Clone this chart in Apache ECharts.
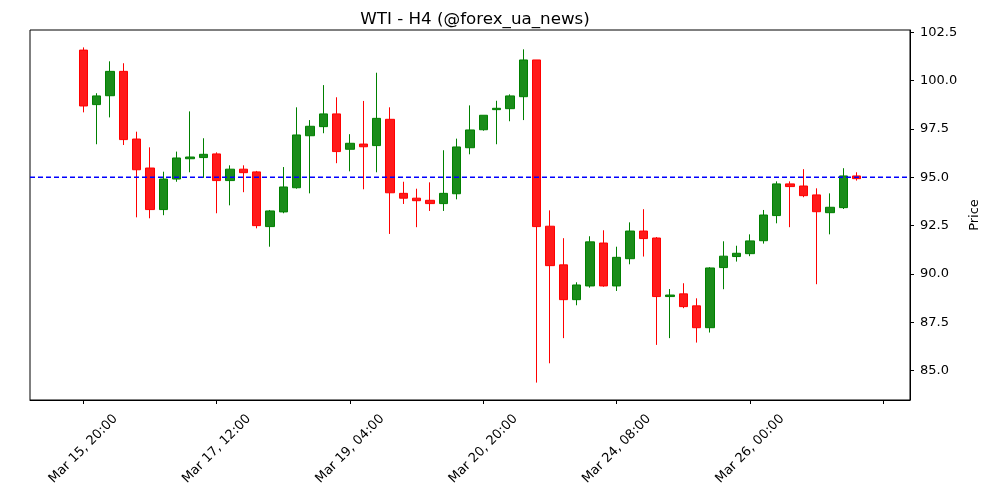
<!DOCTYPE html>
<html>
<head>
<meta charset="utf-8">
<script src="https://cdn.jsdelivr.net/npm/echarts@6/dist/echarts.min.js"></script>
<style>
  html, body { margin: 0; padding: 0; background: #fff; }
  #chart { width: 1000px; height: 500px; }
</style>
</head>
<body>
<div id="chart"></div>
<script>
// 4h candles, weekend gap after Mar 21 08:00
const dates = [
  'Mar 15, 20:00', 'Mar 16, 00:00', 'Mar 16, 04:00', 'Mar 16, 08:00', 'Mar 16, 12:00',
  'Mar 16, 16:00', 'Mar 16, 20:00', 'Mar 17, 00:00', 'Mar 17, 04:00', 'Mar 17, 08:00',
  'Mar 17, 12:00', 'Mar 17, 16:00', 'Mar 17, 20:00', 'Mar 18, 00:00', 'Mar 18, 04:00',
  'Mar 18, 08:00', 'Mar 18, 12:00', 'Mar 18, 16:00', 'Mar 18, 20:00', 'Mar 19, 00:00',
  'Mar 19, 04:00', 'Mar 19, 08:00', 'Mar 19, 12:00', 'Mar 19, 16:00', 'Mar 19, 20:00',
  'Mar 20, 00:00', 'Mar 20, 04:00', 'Mar 20, 08:00', 'Mar 20, 12:00', 'Mar 20, 16:00',
  'Mar 20, 20:00', 'Mar 21, 00:00', 'Mar 21, 04:00', 'Mar 21, 08:00', 'Mar 23, 08:00',
  'Mar 23, 12:00', 'Mar 23, 16:00', 'Mar 23, 20:00', 'Mar 24, 00:00', 'Mar 24, 04:00',
  'Mar 24, 08:00', 'Mar 24, 12:00', 'Mar 24, 16:00', 'Mar 24, 20:00', 'Mar 25, 00:00',
  'Mar 25, 04:00', 'Mar 25, 08:00', 'Mar 25, 12:00', 'Mar 25, 16:00', 'Mar 25, 20:00',
  'Mar 26, 00:00', 'Mar 26, 04:00', 'Mar 26, 08:00', 'Mar 26, 12:00', 'Mar 26, 16:00',
  'Mar 26, 20:00', 'Mar 27, 00:00', 'Mar 27, 04:00', 'Mar 27, 08:00'
];

const opens = [
  101.58, 98.76, 99.22, 100.48, 96.98, 95.48, 93.33, 94.91, 95.96, 96.02,
  96.21, 94.83, 95.42, 95.28, 92.45, 93.21, 94.46, 97.15, 97.62, 98.28,
  96.45, 96.72, 96.64, 98.00, 94.17, 93.92, 93.81, 93.64, 94.15, 96.53,
  97.46, 98.50, 98.55, 99.17, 101.07, 92.47, 90.47, 88.67, 89.38, 91.60,
  89.38, 90.79, 92.22, 91.86, 88.83, 88.97, 88.35, 87.22, 90.33, 90.90,
  91.05, 91.72, 93.02, 94.66, 94.55, 94.09, 93.17, 93.43, 95.07
];
const closes = [
  98.69, 99.21, 100.48, 96.95, 95.39, 93.33, 94.91, 96.00, 96.05, 96.19,
  94.83, 95.42, 95.24, 92.50, 93.26, 94.50, 97.19, 97.64, 98.28, 96.33,
  96.76, 96.58, 98.05, 94.20, 93.92, 93.79, 93.64, 94.17, 96.57, 97.45,
  98.21, 98.57, 99.21, 101.07, 92.45, 90.43, 88.67, 89.43, 91.66, 89.38,
  90.86, 92.22, 91.83, 88.83, 88.91, 88.31, 87.22, 90.31, 90.92, 91.07,
  91.71, 93.05, 94.66, 94.52, 94.05, 93.22, 93.45, 95.07, 94.93
];
const lows = [
  98.36, 96.71, 98.10, 96.67, 92.93, 92.88, 93.04, 94.77, 95.26, 94.97,
  93.14, 93.55, 94.23, 92.36, 91.41, 93.14, 94.41, 94.17, 97.28, 95.73,
  95.31, 94.38, 95.26, 92.07, 93.62, 92.42, 93.26, 93.26, 93.86, 96.19,
  97.41, 96.71, 97.90, 97.96, 84.38, 85.38, 86.68, 88.38, 89.29, 89.34,
  89.12, 90.50, 90.90, 86.33, 86.68, 88.23, 86.45, 86.97, 89.21, 90.64,
  90.92, 91.57, 92.62, 92.42, 93.97, 89.47, 92.05, 93.36, 94.83
];
const highs = [
  101.72, 99.35, 101.00, 100.90, 97.36, 96.55, 95.29, 96.33, 98.41, 97.02,
  96.29, 95.62, 95.62, 95.33, 93.31, 95.53, 98.62, 97.96, 99.77, 99.14,
  97.23, 98.95, 100.41, 98.62, 94.77, 94.41, 94.74, 96.40, 97.00, 98.72,
  98.21, 98.96, 99.29, 101.62, 101.07, 93.29, 91.85, 89.57, 91.95, 92.26,
  91.41, 92.67, 93.35, 91.91, 89.22, 89.52, 88.74, 90.35, 91.69, 91.46,
  92.05, 93.31, 94.79, 94.79, 95.42, 94.43, 94.17, 95.47, 95.26
];

const priceTicks = [85, 87.5, 90, 92.5, 95, 97.5, 100, 102.5];
const refLevel = 95.0;

// the x axis runs 4 slots before the first candle and 4 after the last
const padLeft = 4;
const padRight = 4;
const tickEvery = 10;

let xCats = [];
let candles = [];
for (let i = 0; i < padLeft; i++) { xCats.push(''); candles.push('-'); }
dates.forEach((d, i) => {
    xCats.push(d);
    candles.push([opens[i], closes[i], lows[i], highs[i]]);
});
for (let i = 0; i < padRight; i++) { xCats.push(''); candles.push('-'); }

// horizontal level across the whole plot
const levelLine = xCats.map(() => refLevel);

function isTick(index) {
    return index >= padLeft && (index - padLeft) % tickEvery === 0;
}

const myChart = echarts.init(document.getElementById('chart'));

const option = {
    animation: false,
    textStyle: { fontFamily: 'DejaVu Sans' },
    title: {
        text: 'WTI - H4 (@forex_ua_news)',
        left: 470,
        top: 6,
        textAlign: 'center',
        textStyle: { fontFamily: 'DejaVu Sans', fontSize: 16.7, fontWeight: 'normal', color: '#000' }
    },
    grid: {
        left: 30,
        right: 90,
        top: 30,
        bottom: 100,
        show: true,
        borderColor: '#000',
        borderWidth: 1,
        backgroundColor: '#fff'
    },
    xAxis: {
        type: 'category',
        data: xCats,
        boundaryGap: false,
        axisLine: { lineStyle: { color: '#000', width: 1 } },
        axisTick: {
            interval: (index) => isTick(index),
            length: 4,
            lineStyle: { color: '#000' }
        },
        axisLabel: {
            interval: (index) => isTick(index),
            rotate: 45,
            align: 'center',
            verticalAlign: 'middle',
            margin: 49,
            fontSize: 13,
            color: '#000',
            formatter: (v) => v
        },
        splitLine: { show: false }
    },
    yAxis: {
        type: 'value',
        position: 'right',
        min: 83.48,
        max: 102.62,
        name: 'Price',
        nameLocation: 'middle',
        nameRotate: 90,
        nameGap: 52,
        nameTextStyle: { fontSize: 13, color: '#000' },
        axisLine: { show: true, lineStyle: { color: '#000', width: 1 } },
        axisTick: {
            show: true,
            length: 4,
            customValues: priceTicks,
            lineStyle: { color: '#000' }
        },
        axisLabel: {
            customValues: priceTicks,
            margin: 10,
            fontSize: 13,
            color: '#000',
            formatter: (v) => v.toFixed(1)
        },
        splitLine: { show: false }
    },
    series: [
        {
            type: 'line',
            data: levelLine,
            symbol: 'none',
            silent: true,
            z: 3,
            itemStyle: { color: '#0000ff' },
            lineStyle: { color: '#0000ff', type: [5, 3], width: 1.6 }
        },
        {
            type: 'candlestick',
            data: candles,
            barWidth: 9,
            z: 2,
            itemStyle: {
                color: '#1a8c1a',
                color0: '#ff1a1a',
                borderColor: '#008000',
                borderColor0: '#ff0000',
                borderWidth: 1
            }
        }
    ]
};

myChart.setOption(option);
</script>
</body>
</html>
